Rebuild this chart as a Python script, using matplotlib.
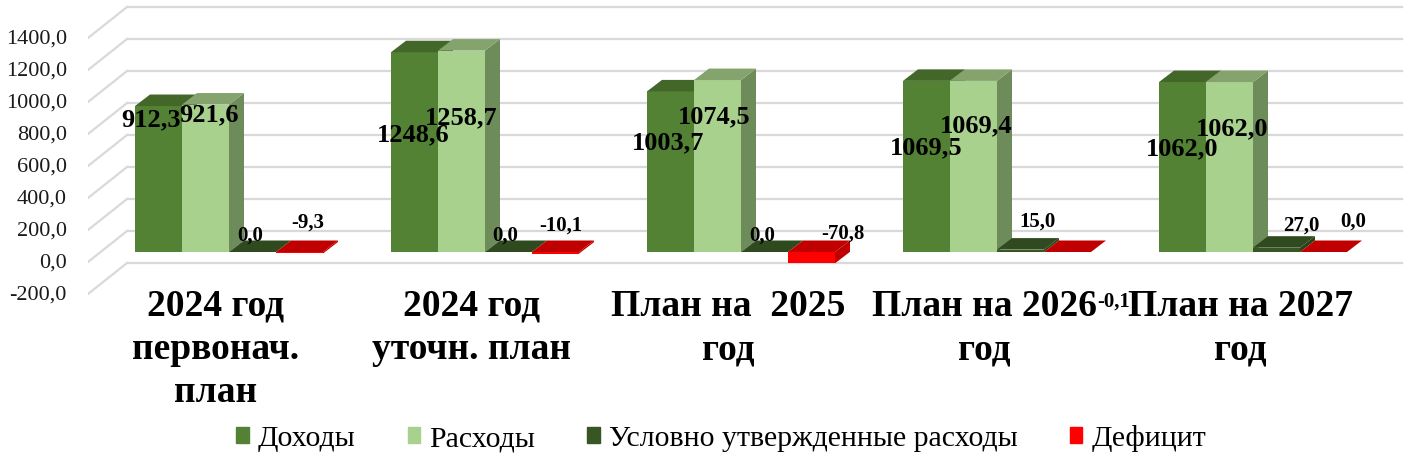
import matplotlib
matplotlib.use("Agg")
import matplotlib.pyplot as plt
from matplotlib.patches import Polygon, Patch

# ---------------- data ----------------
categories = ["2024 год\nпервонач.\nплан", "2024 год\nуточн. план",
              "План на  2025\nгод", "План на 2026\nгод", "План на 2027\nгод"]
dohody = [912.3, 1248.6, 1003.7, 1069.5, 1062.0]
rashody = [921.6, 1258.7, 1074.5, 1069.4, 1062.0]
uslovno = [0.0, 0.0, 0.0, 15.0, 27.0]
deficit = [-9.3, -10.1, -70.8, -0.1, 0.0]
series_names = ["Доходы", "Расходы", "Условно утвержденные расходы", "Дефицит"]
y_ticks = [-200, 0, 200, 400, 600, 800, 1000, 1200, 1400]

# label anchors (pixel rows in the picture, x shift in px from bar centre)
lab_big_py = [[118, 133, 141, 146, 147],     # Доходы
              [113, 116, 115, 124, 127]]     # Расходы
lab_big_dx = [[-8, -1, -2, 0, 0], [4, 0, -3, 3, 3]]
lab_small_py = [[235, 235, 235, 221, 225],   # Условно
                [222, 225, 233, 301, 221]]   # Дефицит
lab_small_dx = [[-2, -3, -2, 17, 25], [8, 5, 31, 46, 30]]

# colours: front, side, top
styles = [("#548235", "#3f6227", "#436629"),
          ("#a9d18e", "#6e8b5a", "#84a36d"),
          ("#375623", "#2a421b", "#2f4a1e"),
          ("#ff0000", "#c00000", "#c00000")]

# ---------------- frame (pixel geometry of the picture) ----------------
W_PX, H_PX = 1411, 460
GROUP0, GROUP = 229, 256      # px of first group centre, px between groups
ZERO, SCALE = 253, 0.16       # px row of zero at bar front, px per unit
BAR = 47 / GROUP              # bar width in category units
DX, DY = 15 / GROUP, 11.5 / SCALE  # depth of the boxes

def px2x(px):
    return (px - GROUP0) / GROUP

def py2v(py):
    return (ZERO - py) / SCALE

fig = plt.figure(figsize=(W_PX / 100, H_PX / 100), dpi=100)
ax = fig.add_axes([88 / W_PX, (H_PX - 300) / H_PX, (W_PX - 88) / W_PX, 300 / H_PX])
ax.set_xlim(px2x(88), px2x(W_PX))
ax.set_ylim(py2v(300), py2v(0))
ax.axis("off")

serif = "Liberation Serif"
grid_c = "#d9d9d9"

# back wall grid + side wall diagonals + tick labels
for v in y_ticks:
    front_py = 263 - SCALE * v
    back_py = 232 - SCALE * v
    ax.plot([px2x(127), px2x(1402)], [py2v(back_py)] * 2, color=grid_c, lw=1.6, zorder=1)
    ax.plot([px2x(88), px2x(127)], [py2v(front_py), py2v(back_py)], color=grid_c, lw=1.6, zorder=1)
    ax.text(px2x(67), py2v(front_py), "{:.1f}".format(v).replace(".", ","),
            ha="right", va="center", fontsize=16, family=serif, color="#1a1a1a")

# ---------------- bars ----------------
def bar3d(xl, v, st, z):
    lo, hi = min(0, v), max(0, v)
    xr = xl + BAR
    ax.bar(xl, hi - lo, width=BAR, bottom=lo, align="edge", color=st[0], lw=0, zorder=z)
    ax.add_patch(Polygon([(xr, lo), (xr, hi), (xr + DX, hi + DY), (xr + DX, lo + DY)],
                         closed=True, fc=st[1], lw=0, zorder=z))
    ax.add_patch(Polygon([(xl, hi), (xr, hi), (xr + DX, hi + DY), (xl + DX, hi + DY)],
                         closed=True, fc=st[2], lw=0, zorder=z))

all_series = [dohody, rashody, uslovno, deficit]
z = 2
for i in range(len(categories)):
    for j, ser in enumerate(all_series):
        xl = i - 2 * BAR + j * BAR
        bar3d(xl, ser[i], styles[j], z)
        z += 1

def fmt(v):
    return "{:.1f}".format(v).replace(".", ",")

# data labels
for j in range(2):
    ser = all_series[j]
    for i, v in enumerate(ser):
        xc = i - 2 * BAR + (j + 0.5) * BAR + lab_big_dx[j][i] / GROUP
        ax.text(xc, py2v(lab_big_py[j][i] + 8), fmt(v), ha="center", va="baseline",
                fontsize=19, fontweight="bold", family=serif, zorder=100)
for j in range(2):
    ser = all_series[j + 2]
    for i, v in enumerate(ser):
        xc = i - 2 * BAR + (j + 2.5) * BAR + lab_small_dx[j][i] / GROUP
        ax.text(xc, py2v(lab_small_py[j][i] + 6), fmt(v), ha="center", va="baseline",
                fontsize=15, fontweight="bold", family=serif, zorder=100)

# category labels
for i, c in enumerate(categories):
    ax.text(i - 13 / GROUP, py2v(289), c, ha="center", va="top", fontsize=27,
            fontweight="bold", family=serif, linespacing=1.3, clip_on=False)

# legend
handles = [Patch(color=s[0]) for s in styles]
fig.legend(handles, series_names, loc="center", bbox_to_anchor=(721 / W_PX, 21 / H_PX),
           ncol=4, frameon=False, prop={"family": serif, "size": 21.5},
           handlelength=0.42, handleheight=0.42, handletextpad=0.3, columnspacing=1.75)

fig.savefig("out.png", dpi=100)
